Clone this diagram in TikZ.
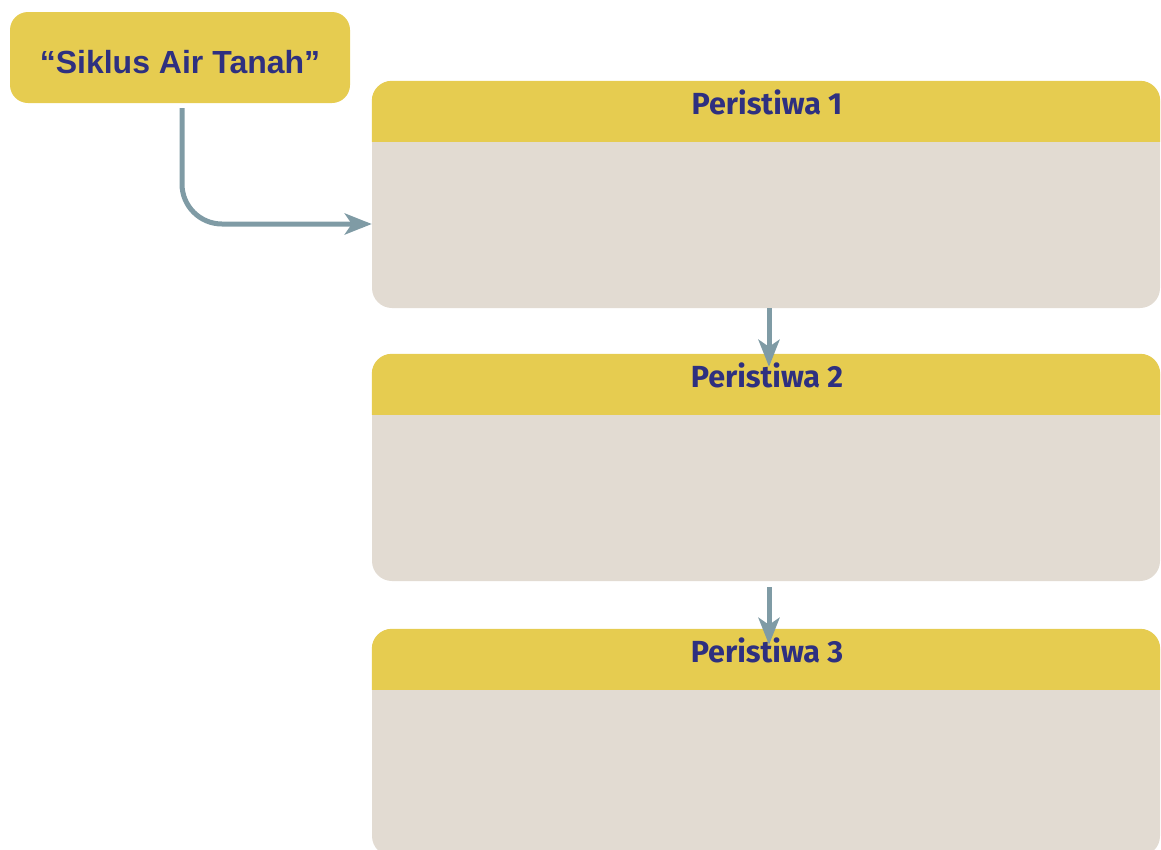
\documentclass[tikz,border=0pt]{standalone}
\usepackage{fontspec}
\newfontfamily\titlefont{Liberation Sans}
\newfontfamily\headfont{Fira Sans}
\usetikzlibrary{arrows.meta,calc}

\definecolor{boxyellow}{HTML}{E6CC50}
\definecolor{panelgray}{HTML}{E2DBD2}
\definecolor{flowblue}{HTML}{7F9BA5}
\definecolor{inkblue}{HTML}{2E3080}

\tikzset{
  titlebox/.style={fill=boxyellow, rounded corners=18pt, minimum width=340pt,
    minimum height=91pt, inner sep=0pt, text=inkblue,
    font=\titlefont\bfseries\fontsize{32}{38}\selectfont,
    text height=31pt, text depth=0pt},
  panel/.style={fill=panelgray, rounded corners=20pt, minimum width=788pt,
    minimum height=227pt, inner sep=0pt},
  headtext/.style={anchor=base, text=inkblue, inner sep=0pt,
    font=\headfont\bfseries\fontsize{30.5}{36}\selectfont},
  flow/.style={draw=flowblue, line width=5pt,
    -{Stealth[length=27pt,width=21pt,inset=7pt]}}
}

\newcommand{\panelhead}[2]{%
  \begin{scope}
    \clip (#1.north west) rectangle ($(#1.north east)+(0,61)$);
    \fill[boxyellow, rounded corners=20pt] (#1.north west) rectangle (#1.south east);
  \end{scope}
  \node[headtext] (#1h) at ($(#1.north)+(1,33.5)$) {#2};
}

\begin{document}
\begin{tikzpicture}[x=1pt,y=-1pt]
  \useasboundingbox (0,0) rectangle (1161,849);
  \clip (0,0) rectangle (1161,849);

  % title
  \node[titlebox] (title) at (180,57.5) {“Siklus Air Tanah”};

  % three stacked panels
  \node[panel] (p1) at (766,194.5) {};
  \node[panel] (p2) at (766,467.5) {};
  \node[panel] (p3) at (766,742.5) {};
  \panelhead{p1}{Peristiwa 1}
  \panelhead{p2}{Peristiwa 2}
  \panelhead{p3}{Peristiwa 3}

  % connectors
  \draw[flow, rounded corners=40pt]
    ([xshift=2pt,yshift=-5pt]title.south) |- ([yshift=-29.5pt]p1.west);
  \draw[flow] ([xshift=3pt]p1.south) -- ([xshift=3pt,yshift=-13pt]p2.north);
  \draw[flow] ([xshift=3pt,yshift=-6pt]p2.south) -- ([xshift=3pt,yshift=-16pt]p3.north);
\end{tikzpicture}
\end{document}
